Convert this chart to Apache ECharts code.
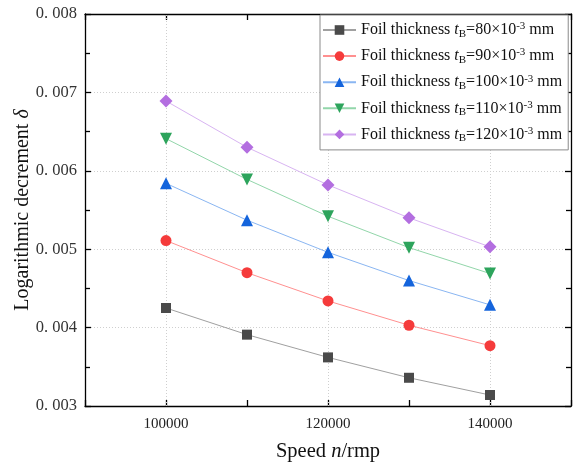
<!DOCTYPE html>
<html>
<head>
<meta charset="utf-8">
<script src="https://cdn.jsdelivr.net/npm/echarts@6/dist/echarts.min.js"></script>
<style>
  html, body { margin: 0; padding: 0; background: #fff; }
  #chart { width: 583px; height: 463px; }
</style>
</head>
<body>
<div id="chart"></div>
<script>
// Rotor speed (rpm) and foil thicknesses (×10^-3 mm)
const speeds = [100000, 110000, 120000, 130000, 140000];
const thicknesses = [80, 90, 100, 110, 120];

// Logarithmic decrement for each foil thickness
const delta80  = [0.00425, 0.00391, 0.00362, 0.00336, 0.00314];
const delta90  = [0.00511, 0.00470, 0.00434, 0.00403, 0.00377];
const delta100 = [0.00584, 0.00537, 0.00496, 0.00460, 0.00429];
const delta110 = [0.00641, 0.00589, 0.00542, 0.00502, 0.00469];
const delta120 = [0.00689, 0.00630, 0.00582, 0.00540, 0.00503];

// Speeds carrying labelled ticks and vertical grid lines
const xLabelTicks = [100000, 120000, 140000];

const FONT = '"Liberation Serif", "Times New Roman", serif';

const styles = [
  { symbol: 'rect',     size: 10, rotate: 0,   mark: '#4a4a4a', line: '#a0a0a0' },
  { symbol: 'circle',   size: 11, rotate: 0,   mark: '#f53b3b', line: '#ff9090' },
  { symbol: 'triangle', size: 12, rotate: 0,   mark: '#1464dc', line: '#8ab6f2' },
  { symbol: 'triangle', size: 12, rotate: 180, mark: '#2da45c', line: '#92d6aa' },
  { symbol: 'diamond',  size: 13, rotate: 0,   mark: '#b36ee0', line: '#d8b4f2' }
];
const deltas = [delta80, delta90, delta100, delta110, delta120];

const seriesNames = thicknesses.map(t => 't' + t);

const series = deltas.map((d, i) => ({
  name: seriesNames[i],
  type: 'line',
  data: speeds.map((s, j) => [s, d[j]]),
  symbol: styles[i].symbol,
  symbolSize: styles[i].size,
  symbolRotate: styles[i].rotate,
  itemStyle: { color: styles[i].mark },
  lineStyle: { color: styles[i].line, width: 1 },
  z: 3
}));

// vertical dotted grid lines at the labelled speeds
series.push({
  name: 'grid',
  type: 'line',
  data: [],
  silent: true,
  z: 1,
  markLine: {
    silent: true,
    z: 1,
    symbol: ['none', 'none'],
    label: { show: false },
    lineStyle: { color: '#cfcfcf', type: [1, 2], width: 1 },
    data: xLabelTicks.map(v => ({ xAxis: v }))
  }
});

const chart = echarts.init(document.getElementById('chart'), null, { renderer: 'canvas' });

const frameLine = { show: true, lineStyle: { color: '#000', width: 1.3 } };
const tickStyle = { color: '#000', width: 1.3 };

chart.setOption({
  backgroundColor: '#ffffff',
  animation: false,
  grid: { left: 85, right: 12, top: 14, bottom: 57, outerBoundsMode: 'none', containLabel: false },
  legend: {
    data: seriesNames,
    orient: 'vertical',
    left: 320,
    top: 15,
    itemWidth: 33,
    itemHeight: 12,
    itemGap: 7.6,
    padding: [6, 6, 6, 2],
    backgroundColor: '#fff',
    borderColor: '#8a8a8a',
    borderWidth: 1,
    formatter: name => {
      const t = name.slice(1);
      return '{a|Foil thickness }{i|t}{s|B}{a|=' + t + '×10}{p|-3}{a| mm}';
    },
    textStyle: {
      fontFamily: FONT,
      fontSize: 16,
      color: '#111',
      rich: {
        a: { fontFamily: FONT, fontSize: 16, color: '#111' },
        i: { fontFamily: FONT, fontSize: 16, fontStyle: 'italic', color: '#111' },
        s: { fontFamily: FONT, fontSize: 11, color: '#111', padding: [8, 0, 0, 0] },
        p: { fontFamily: FONT, fontSize: 11, color: '#111', padding: [0, 0, 7, 0] }
      }
    }
  },
  xAxis: [{
    type: 'value',
    min: 90000,
    max: 150000,
    interval: 10000,
    position: 'bottom',
    name: '{a|Speed }{i|n}{a|/rmp}',
    nameLocation: 'middle',
    nameGap: 35,
    nameMoveOverlap: false,
    nameTextStyle: {
      rich: {
        a: { fontFamily: FONT, fontSize: 20.5, color: '#111' },
        i: { fontFamily: FONT, fontSize: 20.5, fontStyle: 'italic', color: '#111' }
      }
    },
    axisLine: frameLine,
    axisTick: { show: true, inside: true, length: 6, lineStyle: tickStyle },
    axisLabel: {
      margin: 11,
      fontFamily: FONT,
      fontSize: 15,
      color: '#222',
      formatter: v => (xLabelTicks.indexOf(v) >= 0 ? String(v) : '')
    },
    splitLine: { show: false }
  }, {
    type: 'value',
    min: 90000,
    max: 150000,
    interval: 10000,
    position: 'top',
    axisLine: frameLine,
    axisTick: { show: true, inside: true, length: 6, lineStyle: tickStyle },
    axisLabel: { show: false },
    splitLine: { show: false }
  }],
  yAxis: [{
    type: 'value',
    min: 0.003,
    max: 0.008,
    interval: 0.001,
    position: 'left',
    name: '{a|Logarithmic decrement }{i|δ}',
    nameLocation: 'middle',
    nameGap: 52,
    nameMoveOverlap: false,
    nameTextStyle: {
      rich: {
        a: { fontFamily: FONT, fontSize: 20, color: '#111' },
        i: { fontFamily: FONT, fontSize: 20, fontStyle: 'italic', color: '#111' }
      }
    },
    axisLine: frameLine,
    axisTick: { show: true, inside: true, length: 6, lineStyle: tickStyle },
    minorTick: { show: true, splitNumber: 2, length: 5, lineStyle: tickStyle },
    axisLabel: {
      margin: 8,
      fontFamily: FONT,
      fontSize: 16.5,
      color: '#333',
      formatter: v => v.toFixed(3).replace('.', '. ')
    },
    splitLine: { show: true, lineStyle: { color: '#cfcfcf', type: [1, 2], width: 1 } }
  }, {
    type: 'value',
    min: 0.003,
    max: 0.008,
    interval: 0.001,
    position: 'right',
    axisLine: frameLine,
    axisTick: { show: true, inside: true, length: 6, lineStyle: tickStyle },
    minorTick: { show: true, splitNumber: 2, length: 5, lineStyle: tickStyle },
    axisLabel: { show: false },
    splitLine: { show: false }
  }],
  series: series
});
</script>
</body>
</html>
